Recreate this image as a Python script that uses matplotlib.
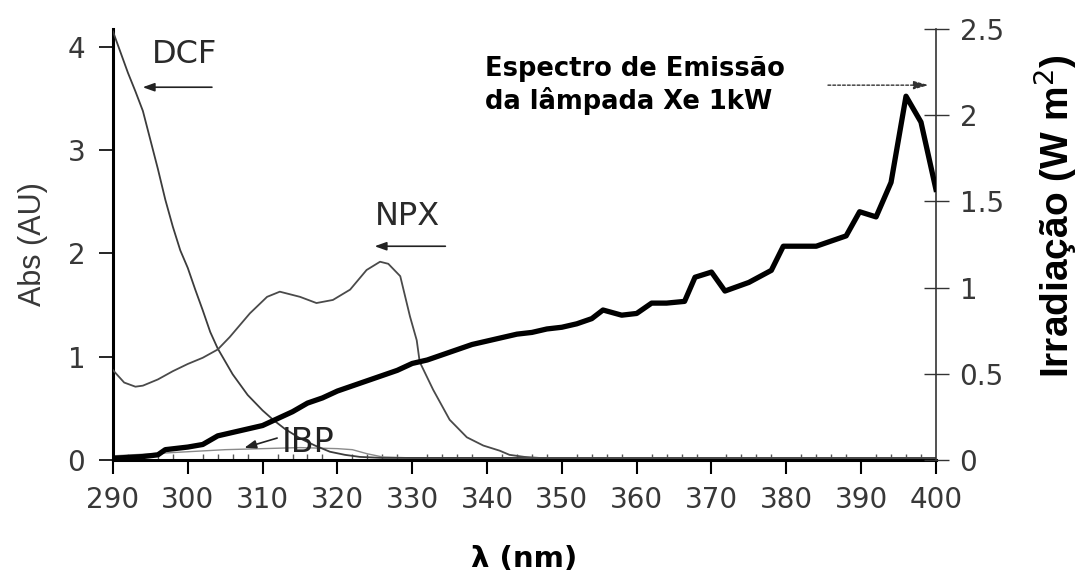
import matplotlib
matplotlib.use("Agg")
import matplotlib.pyplot as plt
from matplotlib.ticker import MultipleLocator, FuncFormatter

# absorbance spectra (AU) vs wavelength (nm)
dcf_nm = [290, 291, 292, 293, 294, 295, 296, 297, 298, 299, 300, 301, 302, 303, 304,
          306, 308, 310, 311.4, 313, 315, 317, 319, 321, 323, 326, 330, 400]
dcf_abs = [4.15, 3.95, 3.75, 3.57, 3.38, 3.10, 2.82, 2.52, 2.26, 2.03, 1.86, 1.65, 1.45, 1.24, 1.08,
           0.83, 0.63, 0.48, 0.39, 0.30, 0.21, 0.14, 0.08, 0.05, 0.03, 0.02, 0.02, 0.02]

npx_nm = [290, 291.5, 293, 294, 296, 298, 300, 302, 304, 305.6, 308.3, 310.6, 312.3, 315,
          317.2, 319.4, 321.7, 323.9, 325.7, 326.8, 328.4, 329.7, 330.6, 331, 332.8, 335,
          337.3, 339.5, 341.7, 343, 345, 347, 400]
npx_abs = [0.87, 0.75, 0.71, 0.72, 0.78, 0.86, 0.93, 0.99, 1.07, 1.19, 1.42, 1.58, 1.63, 1.58,
           1.52, 1.55, 1.65, 1.84, 1.92, 1.90, 1.78, 1.39, 1.16, 0.95, 0.68, 0.39,
           0.22, 0.14, 0.09, 0.05, 0.03, 0.02, 0.02]

ibp_nm = [290, 295, 300, 305, 310, 315, 320, 322, 324, 326, 330, 400]
ibp_abs = [0.04, 0.06, 0.08, 0.10, 0.11, 0.12, 0.11, 0.10, 0.06, 0.03, 0.02, 0.02]

# Xe 1 kW lamp emission (W m-2)
irr_nm = [290, 292, 294, 296, 297, 300, 302, 304, 306, 308, 310, 312, 314, 316, 318, 320,
          322, 324, 326, 328, 330, 332, 334, 336, 338, 340, 342, 344, 346, 348, 350, 352,
          354, 355.5, 358, 360, 362, 364, 366.4, 367.8, 370, 371.8, 375, 378, 379.6, 384,
          388, 389.8, 392, 394, 396, 398, 400]
irr = [0.01, 0.015, 0.02, 0.03, 0.06, 0.075, 0.09, 0.14, 0.16, 0.18, 0.20, 0.24, 0.28, 0.33, 0.36, 0.40,
       0.43, 0.46, 0.49, 0.52, 0.56, 0.58, 0.61, 0.64, 0.67, 0.69, 0.71, 0.73, 0.74, 0.76, 0.77, 0.79,
       0.82, 0.87, 0.84, 0.85, 0.91, 0.91, 0.92, 1.06, 1.09, 0.98, 1.03, 1.10, 1.24, 1.24,
       1.30, 1.44, 1.41, 1.61, 2.11, 1.96, 1.57]

x_ticks = list(range(290, 401, 10))
abs_ticks = [0, 1, 2, 3, 4]
irr_ticks = [0, 0.5, 1, 1.5, 2, 2.5]

plt.rcParams["font.family"] = "DejaVu Sans"
tick_col = "#383838"

fig = plt.figure(figsize=(10.82, 5.75), dpi=100)
ax = fig.add_axes([0.1044, 0.2, 0.7606, 0.7496])
ax2 = ax.twinx()

ax.plot(dcf_nm, dcf_abs, color="#3c3c3c", lw=1.3, zorder=3)
ax.plot(npx_nm, npx_abs, color="#4a4a4a", lw=1.3, zorder=3)
ax.plot(ibp_nm, ibp_abs, color="#8a8a8a", lw=1.0, zorder=2)
ax2.plot(irr_nm, irr, color="black", lw=3.8, solid_joinstyle="round", zorder=4)

ax.set_xlim(290, 400)
ax.set_ylim(0, 4.174)
ax2.set_ylim(0, 2.5)

ax.set_xticks(x_ticks)
ax.xaxis.set_minor_locator(MultipleLocator(2))
ax.set_yticks(abs_ticks)
ax2.set_yticks(irr_ticks)
ax2.yaxis.set_major_formatter(FuncFormatter(lambda v, p: f"{v:g}"))

ax.tick_params(axis="x", which="major", direction="out", length=10, width=1.5,
               labelsize=20, pad=9, colors="black", labelcolor=tick_col)
ax.tick_params(axis="x", which="minor", direction="in", length=4, width=1, colors="#555555")
ax.tick_params(axis="y", direction="out", length=10, width=1.2, labelsize=20, pad=10,
               colors="black", labelcolor=tick_col)
ax2.tick_params(axis="y", direction="inout", length=18, width=1.0, labelsize=20, pad=8,
                colors="#333333", labelcolor=tick_col)

for a in (ax, ax2):
    a.spines["top"].set_visible(False)
    a.patch.set_visible(False)
ax.spines["left"].set_linewidth(2.2)
ax.spines["bottom"].set_linewidth(2.2)
ax.spines["right"].set_visible(False)
ax2.spines["left"].set_visible(False)
ax2.spines["bottom"].set_visible(False)
ax2.spines["right"].set_linewidth(1.2)
ax2.spines["right"].set_color("#333333")

ax.set_xlabel("λ (nm)", fontsize=21, fontweight="bold", labelpad=22)
ax.set_ylabel("Abs (AU)", fontsize=22, color=tick_col, family="Liberation Sans", labelpad=14)
fig.text(1055 / 1082, 1 - 216 / 575, "Irradiação (W m$^2$)", rotation=90,
         ha="center", va="center", fontsize=28, fontweight="bold", family="Liberation Sans")

# curve labels with pointer arrows
arrow_kw = dict(arrowstyle="-|>,head_length=0.7,head_width=0.25", color="#222222", lw=1.2)
ax.text(295.2, 3.845, "DCF", fontsize=23, color="#2a2a2a", ha="left", va="baseline")
ax.annotate("", xy=(293.6, 3.61), xytext=(303.6, 3.61), arrowprops=arrow_kw)
ax.text(325.0, 2.276, "NPX", fontsize=23, color="#2a2a2a", ha="left", va="baseline")
ax.annotate("", xy=(324.6, 2.07), xytext=(334.8, 2.07), arrowprops=arrow_kw)
ax.text(312.6, 0.077, "IBP", fontsize=24, color="#222222", ha="left", va="baseline", zorder=5)
ax.annotate("", xy=(307.2, 0.11), xytext=(312.3, 0.22), arrowprops=arrow_kw, zorder=5)

ax.text(339.7, 3.91, "Espectro de Emissão\nda lâmpada Xe 1kW", fontsize=18.5,
        fontweight="bold", ha="left", va="top", linespacing=1.2)
ax.annotate("", xy=(399.4, 3.63), xytext=(385.2, 3.63),
            arrowprops=dict(arrowstyle="-|>,head_length=0.9,head_width=0.25",
                            color="#333333", lw=1.0, ls=(0, (2, 1.5))))

fig.savefig("out.png", dpi=100)
